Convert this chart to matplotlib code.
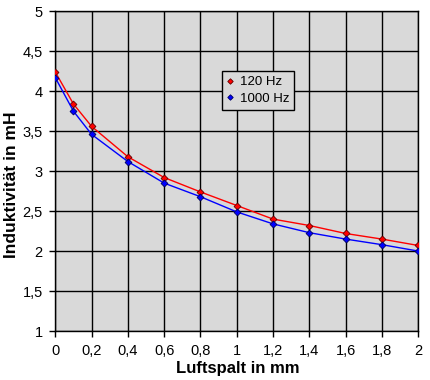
import matplotlib
matplotlib.use('Agg')
import matplotlib.pyplot as plt
from matplotlib.ticker import FuncFormatter

# Luftspalt (mm) und gemessene Induktivitaet (mH)
luftspalt = [0, 0.1, 0.2, 0.4, 0.6, 0.8, 1.0, 1.2, 1.4, 1.6, 1.8, 2.0]
l_120hz = [4.24, 3.84, 3.56, 3.18, 2.92, 2.74, 2.57, 2.40, 2.32, 2.22, 2.15, 2.07]
l_1000hz = [4.17, 3.75, 3.46, 3.12, 2.85, 2.68, 2.49, 2.34, 2.23, 2.15, 2.08, 2.00]

x_ticks = [0, 0.2, 0.4, 0.6, 0.8, 1.0, 1.2, 1.4, 1.6, 1.8, 2.0]
y_ticks = [1, 1.5, 2, 2.5, 3, 3.5, 4, 4.5, 5]

plt.rcParams['font.family'] = ['Liberation Sans', 'DejaVu Sans']

fig = plt.figure(figsize=(4.31, 3.8), dpi=100)
ax = fig.add_axes([0.1283, 0.1289, 0.8422, 0.8414])
ax.set_facecolor('#d9d9d9')

ax.plot(luftspalt, l_120hz, color='red', lw=1, marker='D', ms=3.5,
        mfc='red', mec='#600000', mew=0.6, label='120 Hz', zorder=3)
ax.plot(luftspalt, l_1000hz, color='blue', lw=1, marker='D', ms=3.5,
        mfc='blue', mec='#000060', mew=0.6, label='1000 Hz', zorder=3)

ax.set_xlim(0, 2)
ax.set_ylim(1, 5)
ax.set_xticks(x_ticks)
ax.set_yticks(y_ticks)

komma = FuncFormatter(lambda v, p: f'{v:g}'.replace('.', ','))
ax.xaxis.set_major_formatter(komma)
ax.yaxis.set_major_formatter(komma)

ax.grid(True, color='black', lw=1)
ax.set_axisbelow(True)
for s in ax.spines.values():
    s.set_color('black')
    s.set_linewidth(1)

ax.tick_params(direction='out', length=4, width=1, labelsize=10.5, pad=5)

ax.set_xlabel('Luftspalt in mm', fontsize=12, fontweight='bold')
ax.set_ylabel('Induktivität in mH', fontsize=12.5, fontweight='bold')
ax.xaxis.set_label_coords(0.502, -0.093)
ax.yaxis.set_label_coords(-0.099, 0.457)

leg = ax.legend(loc='upper left', bbox_to_anchor=(0.459, 0.812), fontsize=9.5,
                frameon=True, fancybox=False, borderpad=0.35, borderaxespad=0,
                handlelength=0.6, handletextpad=0.4, labelspacing=0.35,
                markerscale=0.8)
leg.get_frame().set_facecolor('#d9d9d9')
leg.get_frame().set_edgecolor('black')
leg.get_frame().set_alpha(1)
for h in leg.get_lines():
    h.set_linestyle('none')

fig.savefig('out.png', dpi=100)
